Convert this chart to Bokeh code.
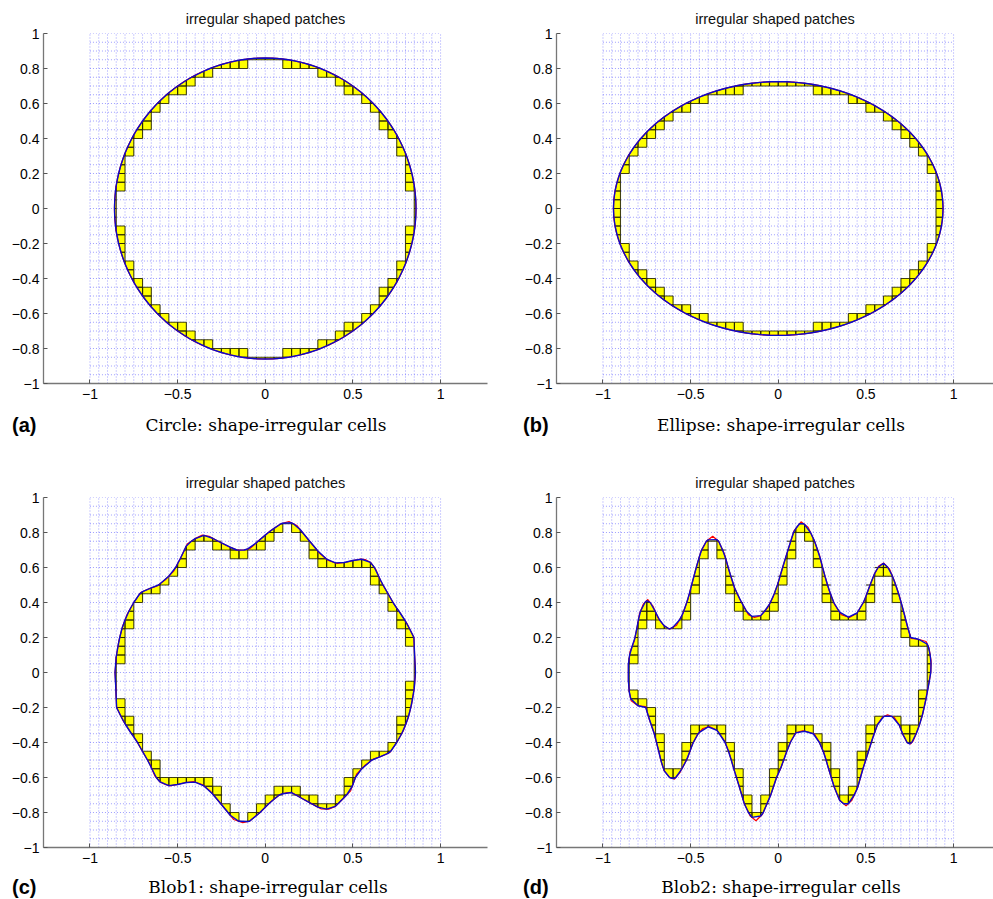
import math
import numpy as np
from bokeh.plotting import figure
from bokeh.layouts import column, row
from bokeh.models import Range1d, FixedTicker, Div
from bokeh.embed import file_html
from bokeh.resources import INLINE

# ---------------- data ----------------
CELL = 0.05
MESH_LO, MESH_HI = -1.0, 1.0

CIRCLE_R = 0.86
ELLIPSE_AX = 0.94
ELLIPSE_AY = 0.725

BLOB1_X = [0.857, 0.852, 0.848, 0.81, 0.77, 0.734, 0.695, 0.658, 0.63, 0.601, 0.57, 0.544, 0.5, 0.46, 0.411,
           0.36, 0.315, 0.27, 0.22, 0.18, 0.135, 0.09, 0.03, -0.03, -0.084, -0.12, -0.16, -0.21, -0.274, -0.32,
           -0.359, -0.40, -0.445, -0.48, -0.521, -0.57, -0.616, -0.66, -0.711, -0.75, -0.787, -0.815, -0.835,
           -0.85, -0.857, -0.852, -0.848, -0.81, -0.77, -0.734, -0.695, -0.658, -0.63, -0.601, -0.57, -0.544,
           -0.5, -0.46, -0.411, -0.36, -0.315, -0.27, -0.22, -0.18, -0.128, -0.09, -0.03, 0.03, 0.084, 0.12,
           0.15, 0.21, 0.274, 0.32, 0.362, 0.40, 0.445, 0.487, 0.521, 0.57, 0.616, 0.66, 0.711, 0.75, 0.787,
           0.815, 0.835, 0.85]
BLOB1_Y = [0.0, 0.1, 0.2, 0.277, 0.34, 0.391, 0.46, 0.524, 0.59, 0.629, 0.645, 0.648, 0.64, 0.63, 0.623,
           0.64, 0.677, 0.73, 0.791, 0.84, 0.863, 0.85, 0.81, 0.76, 0.711, 0.70, 0.699, 0.72, 0.753, 0.778,
           0.785, 0.765, 0.734, 0.66, 0.581, 0.53, 0.495, 0.48, 0.457, 0.40, 0.334, 0.26, 0.181,
           0.09, 0.0, -0.1, -0.2, -0.277, -0.34, -0.391, -0.46, -0.524, -0.59, -0.625, -0.64, -0.648,
           -0.64, -0.63, -0.623, -0.64, -0.677, -0.73, -0.791, -0.84, -0.858, -0.85, -0.80, -0.74, -0.697, -0.688,
           -0.686, -0.72, -0.755, -0.78, -0.781, -0.765, -0.72, -0.676, -0.581, -0.53, -0.495, -0.48, -0.457,
           -0.40, -0.334, -0.26, -0.181, -0.09]

BLOB2_X = [0.87, 0.872, 0.86, 0.843, 0.80, 0.757, 0.735, 0.719, 0.69, 0.662, 0.635, 0.602, 0.575, 0.548,
           0.52, 0.491, 0.45, 0.406, 0.36, 0.320, 0.29, 0.263, 0.235, 0.206, 0.17, 0.130, 0.09, 0.054, 0.025,
           -0.003, -0.03, -0.060, -0.10, -0.136, -0.17, -0.193, -0.22, -0.250, -0.28, -0.307, -0.34, -0.374,
           -0.41, -0.440, -0.465, -0.488, -0.515, -0.545, -0.58, -0.621, -0.655, -0.687, -0.715, -0.744,
           -0.77, -0.792, -0.805, -0.821, -0.845, -0.855,
           -0.855, -0.85, -0.839, -0.80, -0.757, -0.735, -0.710, -0.687, -0.665, -0.650, -0.62, -0.592,
           -0.56, -0.516, -0.49, -0.459, -0.43, -0.393, -0.35, -0.307, -0.28, -0.250, -0.22, -0.193, -0.16,
           -0.127, -0.09, -0.06, -0.041, -0.01, 0.016, 0.045, 0.073, 0.10, 0.139, 0.17, 0.206, 0.235, 0.263,
           0.29, 0.320, 0.35, 0.387, 0.42, 0.453, 0.48, 0.510, 0.54, 0.567, 0.595, 0.624, 0.662, 0.690,
           0.710, 0.735, 0.754, 0.77, 0.786, 0.805, 0.824, 0.845, 0.862]
BLOB2_Y = [0.0, 0.067, 0.14, 0.177, 0.19, 0.195, 0.27, 0.334, 0.44, 0.524, 0.59, 0.625, 0.61, 0.562,
           0.49, 0.410, 0.34, 0.314, 0.33, 0.391, 0.47, 0.562, 0.67, 0.753, 0.83, 0.861, 0.81, 0.695, 0.60,
           0.505, 0.43, 0.371, 0.325, 0.314, 0.33, 0.371, 0.42, 0.486, 0.58, 0.677, 0.75, 0.779,
           0.75, 0.695, 0.61, 0.524, 0.42, 0.334, 0.27, 0.248, 0.27, 0.314, 0.38, 0.417,
           0.39, 0.334, 0.26, 0.181, 0.12, 0.048,
           -0.047, -0.11, -0.162, -0.19, -0.195, -0.27, -0.34, -0.429, -0.52, -0.562, -0.60, -0.609,
           -0.57, -0.486, -0.41, -0.352, -0.32, -0.309, -0.33, -0.390, -0.46, -0.562, -0.66, -0.752, -0.82,
           -0.847, -0.81, -0.74, -0.695, -0.60, -0.543, -0.46, -0.390, -0.345, -0.333, -0.34, -0.352, -0.40,
           -0.466, -0.56, -0.657, -0.73, -0.762, -0.73, -0.657, -0.56, -0.466, -0.37, -0.295, -0.255,
           -0.242, -0.257, -0.30, -0.352, -0.40, -0.409, -0.39, -0.352, -0.30, -0.238, -0.14, -0.047]

TITLE = "irregular shaped patches"
TAGS = ["(a)", "(b)", "(c)", "(d)"]
CAPTIONS = ["Circle: shape-irregular cells", "Ellipse: shape-irregular cells",
            "Blob1: shape-irregular cells", "Blob2: shape-irregular cells"]
X_TICKS = [-1, -0.5, 0, 0.5, 1]
X_LABELS = ["\u22121", "\u22120.5", "0", "0.5", "1"]
Y_TICKS = [-1, -0.8, -0.6, -0.4, -0.2, 0, 0.2, 0.4, 0.6, 0.8, 1]
Y_LABELS = ["\u22121", "\u22120.8", "\u22120.6", "\u22120.4", "\u22120.2", "0", "0.2", "0.4", "0.6", "0.8", "1"]


# ---------------- geometry helpers ----------------
def ellipse_outline(ax, ay, n=720):
    th = np.linspace(0, 2 * np.pi, n, endpoint=False)
    return list(ax * np.cos(th)), list(ay * np.sin(th))


def grid_crossings(xs, ys):
    """piecewise-linear approximation through the curve's crossings with the mesh lines"""
    n = len(xs)
    ox, oy = [], []
    for i in range(n):
        x0, y0 = xs[i], ys[i]
        x1, y1 = xs[(i + 1) % n], ys[(i + 1) % n]
        u0, u1 = (x0 - MESH_LO) / CELL, (x1 - MESH_LO) / CELL
        v0, v1 = (y0 - MESH_LO) / CELL, (y1 - MESH_LO) / CELL
        ts = []
        if u1 != u0:
            for k in range(math.ceil(min(u0, u1)), math.floor(max(u0, u1)) + 1):
                t = (k - u0) / (u1 - u0)
                if 0 <= t < 1:
                    ts.append(t)
        if v1 != v0:
            for k in range(math.ceil(min(v0, v1)), math.floor(max(v0, v1)) + 1):
                t = (k - v0) / (v1 - v0)
                if 0 <= t < 1:
                    ts.append(t)
        for t in sorted(ts):
            ox.append(x0 + t * (x1 - x0))
            oy.append(y0 + t * (y1 - y0))
    return ox, oy


def _inter(P, Q, axis, val):
    t = (val - P[axis]) / (Q[axis] - P[axis])
    pt = [P[0] + t * (Q[0] - P[0]), P[1] + t * (Q[1] - P[1])]
    pt[axis] = val
    return tuple(pt)


def clip_half(pts, axis, val, keep_ge):
    if not pts:
        return []
    out = []
    for i in range(len(pts)):
        P, Q = pts[i - 1], pts[i]
        pin = P[axis] >= val if keep_ge else P[axis] <= val
        qin = Q[axis] >= val if keep_ge else Q[axis] <= val
        if qin:
            if not pin:
                out.append(_inter(P, Q, axis, val))
            out.append(Q)
        elif pin:
            out.append(_inter(P, Q, axis, val))
    return out


def area(pts):
    s = 0.0
    for i in range(len(pts)):
        x0, y0 = pts[i - 1]
        x1, y1 = pts[i]
        s += x0 * y1 - x1 * y0
    return abs(s) / 2


def inside(x, y, poly):
    c = False
    for i in range(len(poly)):
        x0, y0 = poly[i - 1]
        x1, y1 = poly[i]
        if (y0 > y) != (y1 > y):
            xi = x0 + (y - y0) * (x1 - x0) / (y1 - y0)
            if xi > x:
                c = not c
    return c


def cut_cells(px, py):
    poly = list(zip(px, py))
    ncell = int(round((MESH_HI - MESH_LO) / CELL))
    cx, cy, ex, ey = [], [], [], []
    eps = 1e-7
    tol = 1e-9
    for j in range(ncell):
        y_lo = MESH_LO + j * CELL
        y_hi = y_lo + CELL
        strip = clip_half(clip_half(poly, 1, y_lo, True), 1, y_hi, False)
        if len(strip) < 3:
            continue
        for i in range(ncell):
            x_lo = MESH_LO + i * CELL
            x_hi = x_lo + CELL
            c = clip_half(clip_half(strip, 0, x_lo, True), 0, x_hi, False)
            if len(c) < 3:
                continue
            a = area(c)
            if not (1e-9 < a < CELL * CELL * (1 - 1e-6)):
                continue
            cx.append([p[0] for p in c])
            cy.append([p[1] for p in c])
            # cell-border pieces that lie inside the shape -> dark outline
            for k in range(len(c)):
                P, Q = c[k - 1], c[k]
                if abs(P[0] - Q[0]) < tol and abs(P[1] - Q[1]) < tol:
                    continue
                mx, my = (P[0] + Q[0]) / 2, (P[1] + Q[1]) / 2
                if abs(P[0] - x_lo) < tol and abs(Q[0] - x_lo) < tol:
                    mx += eps
                elif abs(P[0] - x_hi) < tol and abs(Q[0] - x_hi) < tol:
                    mx -= eps
                elif abs(P[1] - y_lo) < tol and abs(Q[1] - y_lo) < tol:
                    my += eps
                elif abs(P[1] - y_hi) < tol and abs(Q[1] - y_hi) < tol:
                    my -= eps
                else:
                    continue
                if inside(mx, my, poly):
                    ex.append([P[0], Q[0]])
                    ey.append([P[1], Q[1]])
    return cx, cy, ex, ey


# ---------------- panels ----------------
SCALE = 175.3


def make_panel(shape_x, shape_y, left_panel):
    frame_w = 444 if left_panel else 437
    x_end = -1.265 + frame_w / SCALE
    width = 513 if left_panel else 480
    p = figure(width=width, height=410, output_backend="svg", toolbar_location=None,
               x_range=Range1d(-1.265, x_end), y_range=Range1d(-1, 1),
               min_border_left=43, min_border_right=(26 if left_panel else 0),
               min_border_top=33, min_border_bottom=27,
               title=TITLE)
    p.title.align = "center"
    p.title.text_font = "Liberation Sans"
    p.title.text_font_size = "14.5px"
    p.title.text_font_style = "normal"
    p.title.text_color = "#111111"
    p.title.standoff = 14
    p.outline_line_color = None
    p.grid.visible = False
    for ax in (p.xaxis[0], p.yaxis[0]):
        ax.axis_line_color = "#777777"
        ax.axis_line_width = 1.3
        ax.major_tick_in = 4
        ax.major_tick_out = 0
        ax.major_tick_line_color = "#555555"
        ax.minor_tick_line_color = None
        ax.major_label_text_font = "Liberation Sans"
        ax.major_label_text_font_size = "14px"
        ax.major_label_text_color = "black"
    p.xaxis.ticker = FixedTicker(ticks=X_TICKS)
    p.yaxis.ticker = FixedTicker(ticks=Y_TICKS)
    p.xaxis.major_label_overrides = {t: l for t, l in zip(X_TICKS, X_LABELS)}
    p.yaxis.major_label_overrides = {t: l for t, l in zip(Y_TICKS, Y_LABELS)}
    p.xaxis.major_label_standoff = 5
    p.yaxis.major_label_standoff = 4

    # dotted mesh
    ncell = int(round((MESH_HI - MESH_LO) / CELL))
    g = [MESH_LO + k * CELL for k in range(ncell + 1)]
    p.multi_line(xs=[[v, v] for v in g], ys=[[MESH_LO, MESH_HI] for _ in g],
                 line_color="#2a2aff", line_alpha=0.45, line_width=1, line_dash="1 2")
    p.multi_line(xs=[[MESH_LO, MESH_HI] for _ in g], ys=[[v, v] for v in g],
                 line_color="#2a2aff", line_alpha=0.45, line_width=1, line_dash="1 2")

    ax_, ay_ = grid_crossings(shape_x, shape_y)
    cx, cy, ex, ey = cut_cells(ax_, ay_)
    p.patches(xs=cx, ys=cy, fill_color="#ffff00", fill_alpha=1.0, line_color=None)
    p.multi_line(xs=ex, ys=ey, line_color="#222200", line_alpha=0.85, line_width=1.1)
    p.line(x=list(shape_x) + [shape_x[0]], y=list(shape_y) + [shape_y[0]],
           line_color="red", line_width=1.2)
    p.line(x=ax_ + [ax_[0]], y=ay_ + [ay_[0]], line_color="#0a0acc", line_width=1.4)
    return p


def caption_div(tag, caption, width, height, top, tag_left, cap_center):
    html = (
        f'<div style="position:relative;width:{width}px;height:{height}px;">'
        f'<span style="position:absolute;left:{tag_left}px;top:{top}px;font-family:\'Liberation Sans\',Arial,sans-serif;'
        f'font-weight:bold;font-size:20px;line-height:22px;color:black;white-space:nowrap;">{tag}</span>'
        f'<span style="position:absolute;left:{cap_center - 200}px;width:400px;text-align:center;top:{top}px;'
        f'font-family:\'DejaVu Serif\',serif;font-size:17px;line-height:22px;color:black;white-space:nowrap;">'
        f'{caption}</span></div>'
    )
    return Div(text=html, width=width, height=height, margin=0)


cx0, cy0 = ellipse_outline(CIRCLE_R, CIRCLE_R)
ex0, ey0 = ellipse_outline(ELLIPSE_AX, ELLIPSE_AY)

pa = make_panel(cx0, cy0, True)
pb = make_panel(ex0, ey0, False)
pc = make_panel(BLOB1_X, BLOB1_Y, True)
pd = make_panel(BLOB2_X, BLOB2_Y, False)

da = caption_div(TAGS[0], CAPTIONS[0], 513, 54, 4, 12, 266)
db = caption_div(TAGS[1], CAPTIONS[1], 480, 54, 4, 10, 268)
dc = caption_div(TAGS[2], CAPTIONS[2], 513, 25, 2, 12, 268)
dd = caption_div(TAGS[3], CAPTIONS[3], 480, 25, 2, 10, 268)

layout = column(row(pa, pb), row(da, db), row(pc, pd), row(dc, dd))
open("out.html", "w").write(file_html(layout, INLINE))
